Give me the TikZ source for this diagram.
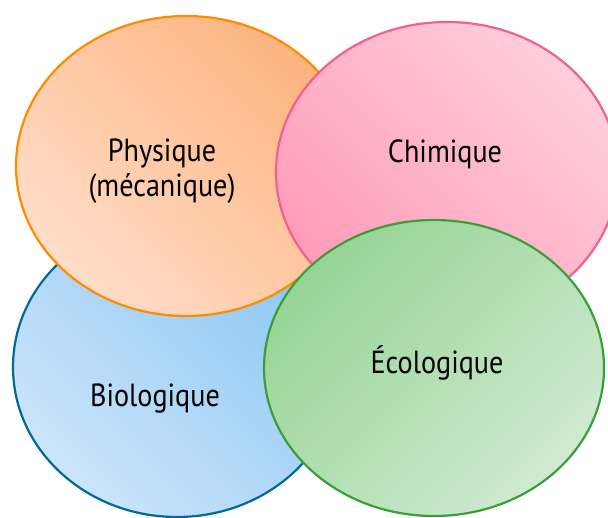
\documentclass[tikz,border=0pt]{standalone}
\usepackage{fontspec}
\setmainfont[FakeStretch=0.88]{PT Sans}
\usetikzlibrary{shapes.geometric}
\definecolor{physline}{HTML}{FF8C00}
\definecolor{physdark}{HTML}{FDB47F}
\definecolor{physlight}{HTML}{FFDDC8}
\definecolor{chimline}{HTML}{F4608E}
\definecolor{chimdark}{HTML}{FF9BBA}
\definecolor{chimlight}{HTML}{FFCEDB}
\definecolor{bioline}{HTML}{006A96}
\definecolor{biodark}{HTML}{8DC7F3}
\definecolor{biolight}{HTML}{CBE5FA}
\definecolor{ecoline}{HTML}{3A9E3A}
\definecolor{ecodark}{HTML}{96D494}
\definecolor{ecolight}{HTML}{D0EAD2}
\begin{document}
\begin{tikzpicture}
[x=1pt,y=-1pt,
  ovaldecorate/.style={shape=ellipse,inner sep=0pt,line width=2.2pt},%
  textdecorate/.style={anchor=base,font=\fontsize{32}{36}\selectfont,align=center}]
\useasboundingbox (0,0) rectangle (608,518);
% ellipses, back to front
\node (bio) at (177,367) [ovaldecorate,draw=bioline,top color=biodark,bottom color=biolight,shading angle=-45,minimum width=328pt,minimum height=300pt] {};
\node (phys) at (186,166) [ovaldecorate,draw=physline,top color=physdark,bottom color=physlight,shading angle=-45,minimum width=340pt,minimum height=300pt] {};
\node (chim) at (447,172) [ovaldecorate,draw=chimline,top color=chimlight,bottom color=chimdark,shading angle=-45,minimum width=342pt,minimum height=300pt] {};
\node (eco) at (434,368) [ovaldecorate,draw=ecoline,top color=ecodark,bottom color=ecolight,shading angle=45,minimum width=340pt,minimum height=296pt] {};
% labels
\node [textdecorate] at (162,162) {Physique};
\node [textdecorate] at (162,197) {(mécanique)};
\node [textdecorate] at (445,163) {Chimique};
\node [textdecorate] at (155,407) {Biologique};
\node [textdecorate] at (437,374) {Écologique};
\end{tikzpicture}
\end{document}
